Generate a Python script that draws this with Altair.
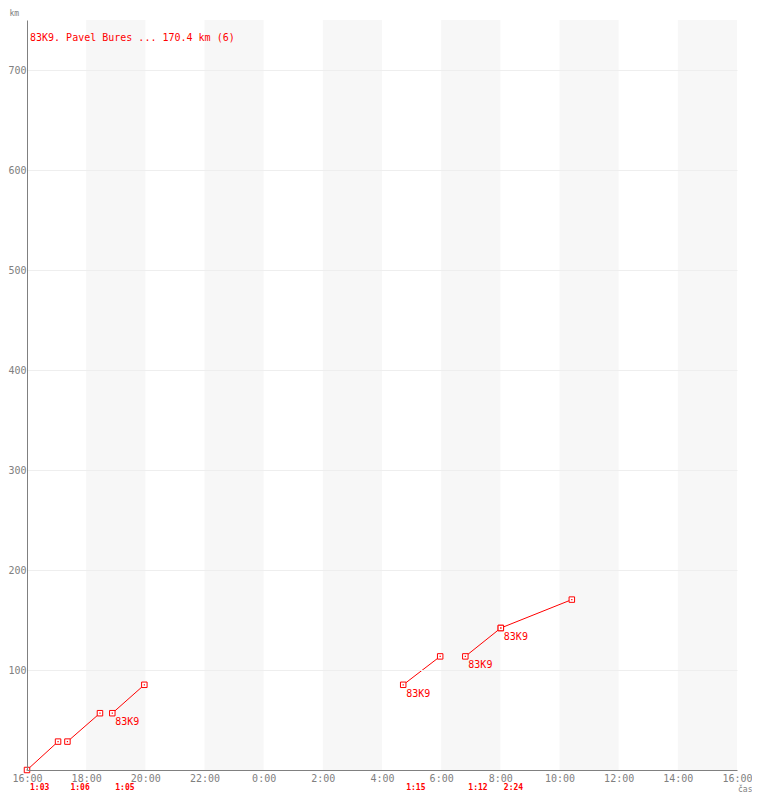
import altair as alt
import pandas as pd

TITLE = "83K9. Pavel Bures ... 170.4 km (6)"
seg_start_time = ["16:00", "17:22", "18:53", "4:43", "6:49", "8:01"]
seg_end_time = ["17:03", "18:28", "19:58", "5:58", "8:01", "10:25"]
seg_start_km = [0.0, 28.4, 56.8, 85.2, 113.6, 142.0]
seg_end_km = [28.4, 56.8, 85.2, 113.6, 142.0, 170.4]
seg_duration = ["1:03", "1:06", "1:05", "1:15", "1:12", "2:24"]
seg_label = ["", "", "83K9", "83K9", "83K9", "83K9"]
band_start = ["18:00", "22:00", "2:00", "6:00", "10:00", "14:00"]
band_len_h = 2
x_tick_hours = [0, 2, 4, 6, 8, 10, 12, 14, 16, 18, 20, 22, 24]
y_tick_values = [100, 200, 300, 400, 500, 600, 700]

START_HOUR = 16
RED = "#ff0000"
GRAY = "#808080"
MONO = "DejaVu Sans Mono"


def off(t):
    h, m = t.split(":")
    v = int(h) + int(m) / 60.0
    if v < START_HOUR:
        v += 24
    return v - START_HOUR


rows = []
for i in range(len(seg_start_time)):
    rows.append({"seg": i, "h": off(seg_start_time[i]), "km": seg_start_km[i]})
    rows.append({"seg": i, "h": off(seg_end_time[i]), "km": seg_end_km[i]})
pts = pd.DataFrame(rows)

lab = pd.DataFrame([
    {"h": off(seg_start_time[i]), "km": seg_start_km[i], "t": seg_label[i]}
    for i in range(len(seg_label)) if seg_label[i]
])
dur = pd.DataFrame({"h": [off(t) for t in seg_start_time], "t": seg_duration})
bands = pd.DataFrame({"h": [off(t) for t in band_start]})
bands["h2"] = bands["h"] + band_len_h
ttl = pd.DataFrame({"t": [TITLE]})

W, H = 710, 750

xscale = alt.Scale(domain=[0, 24], nice=False, zero=False)
yscale = alt.Scale(domain=[0, 750], nice=False)

xaxis = alt.Axis(values=x_tick_hours, labelExpr="((datum.value + 16) % 24) + ':00'",
                 grid=False, ticks=False, domainColor=GRAY, domainWidth=1,
                 labelColor=GRAY, labelFont=MONO, labelFontSize=10, labelPadding=3,
                 labelFlush=False, labelOverlap=False,
                 title="čas", titleFont=MONO, titleFontSize=8, titleColor=GRAY,
                 titleFontWeight="normal", titleAlign="right", titleAnchor="start",
                 titleX=W + 15, titleY=21, titleBaseline="alphabetic", zindex=1)
yaxis = alt.Axis(values=y_tick_values, grid=True, gridColor="#eeeeee", ticks=False,
                 domainColor=GRAY, domainWidth=1, labelColor=GRAY, labelFont=MONO,
                 labelFontSize=10, labelPadding=1, labelFlush=False, labelOverlap=False,
                 title="km", titleFont=MONO, titleFontSize=8, titleColor=GRAY,
                 titleFontWeight="normal", titleAngle=0, titleAlign="left",
                 titleAnchor="start", titleX=-18, titleY=-11, titleBaseline="top",
                 zindex=1)

band_layer = alt.Chart(bands).mark_rect(color="#f7f7f7").encode(
    x=alt.X("h:Q", scale=xscale, axis=xaxis),
    x2="h2:Q",
)

line_layer = alt.Chart(pts).mark_line(color=RED, strokeWidth=1).encode(
    x=alt.X("h:Q", scale=xscale),
    y=alt.Y("km:Q", scale=yscale, axis=yaxis),
    detail="seg:N",
)

pt_layer = alt.Chart(pts).mark_point(shape="square", size=30, filled=True,
                                     fill="white", stroke=RED, strokeWidth=1,
                                     opacity=1).encode(
    x=alt.X("h:Q", scale=xscale),
    y=alt.Y("km:Q", scale=yscale),
)
dot_layer = alt.Chart(pts).mark_square(size=1.5, color=RED, opacity=1).encode(
    x=alt.X("h:Q", scale=xscale),
    y=alt.Y("km:Q", scale=yscale),
)

lab_layer = alt.Chart(lab).mark_text(align="left", baseline="top", dx=3, dy=4,
                                     font=MONO, fontSize=10, color=RED).encode(
    x=alt.X("h:Q", scale=xscale),
    y=alt.Y("km:Q", scale=yscale),
    text="t:N",
)

dur_layer = alt.Chart(dur).mark_text(align="left", baseline="middle", dx=3,
                                     font=MONO, fontSize=8, fontWeight="bold",
                                     color=RED).encode(
    x=alt.X("h:Q", scale=xscale),
    y=alt.value(H + 18),
    text="t:N",
)

title_layer = alt.Chart(ttl).mark_text(align="left", baseline="middle", font=MONO,
                                       fontSize=10, color=RED).encode(
    x=alt.value(3),
    y=alt.value(18),
    text="t:N",
)

chart = alt.layer(band_layer, line_layer, pt_layer, dot_layer, lab_layer,
                  dur_layer, title_layer).properties(
    width=W, height=H,
    autosize=alt.AutoSizeParams(type="none"),
    padding={"left": 19, "top": 12, "right": 15, "bottom": 22},
    background="white",
).configure_view(stroke=None)

chart.save("out.html", embed_options={"renderer": "svg", "actions": False})
